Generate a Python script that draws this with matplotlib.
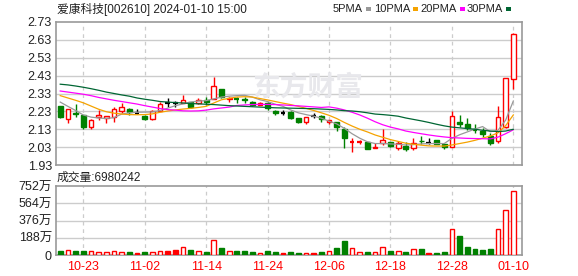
import numpy as np
import matplotlib
matplotlib.use("Agg")
import matplotlib.pyplot as plt

plt.rcParams['font.family'] = ['Liberation Sans', 'Noto Sans CJK SC']

dates = ["10-18", "10-19", "10-20", "10-23", "10-24", "10-25", "10-26", "10-27", "10-30", "10-31",
         "11-01", "11-02", "11-03", "11-06", "11-07", "11-08", "11-09", "11-10", "11-13", "11-14",
         "11-15", "11-16", "11-17", "11-20", "11-21", "11-22", "11-23", "11-24", "11-27", "11-28",
         "11-29", "11-30", "12-01", "12-04", "12-05", "12-06", "12-07", "12-08", "12-11", "12-12",
         "12-13", "12-14", "12-15", "12-18", "12-19", "12-20", "12-21", "12-22", "12-25", "12-26",
         "12-27", "12-28", "12-29", "01-02", "01-03", "01-04", "01-05", "01-08", "01-09", "01-10"]
tick_dates = ["10-23", "11-02", "11-14", "11-24", "12-06", "12-18", "12-28", "01-10"]

opens = [2.26, 2.19, 2.222, 2.21, 2.145, 2.198, 2.191, 2.197, 2.234, 2.243,
         2.22, 2.205, 2.186, 2.234, 2.275, 2.275, 2.275, 2.281, 2.275, 2.294,
         2.30, 2.355, 2.30, 2.30, 2.30, 2.284, 2.267, 2.279, 2.232, 2.223,
         2.228, 2.191, 2.169, 2.204, 2.204, 2.17, 2.172, 2.131, 2.055, 2.055,
         2.057, 2.027, 2.055, 2.057, 2.027, 2.038, 2.025, 2.067, 2.055, 2.07,
         2.046, 2.033, 2.172, 2.157, 2.128, 2.12, 2.094, 2.063, 2.144, 2.41]
highs = [2.26, 2.245, 2.27, 2.21, 2.185, 2.237, 2.204, 2.253, 2.275, 2.25,
         2.241, 2.21, 2.235, 2.28, 2.303, 2.29, 2.32, 2.281, 2.306, 2.309,
         2.425, 2.355, 2.31, 2.31, 2.31, 2.29, 2.285, 2.285, 2.235, 2.235,
         2.23, 2.191, 2.20, 2.219, 2.21, 2.183, 2.172, 2.141, 2.08, 2.07,
         2.057, 2.051, 2.13, 2.06, 2.064, 2.057, 2.083, 2.092, 2.079, 2.07,
         2.046, 2.234, 2.21, 2.191, 2.157, 2.135, 2.107, 2.26, 2.418, 2.667]
lows = [2.195, 2.165, 2.20, 2.13, 2.13, 2.18, 2.165, 2.172, 2.22, 2.21,
        2.215, 2.18, 2.18, 2.23, 2.256, 2.256, 2.275, 2.25, 2.27, 2.265,
        2.30, 2.305, 2.285, 2.275, 2.275, 2.26, 2.265, 2.24, 2.21, 2.21,
        2.185, 2.165, 2.16, 2.195, 2.172, 2.159, 2.122, 2.023, 2.001, 2.046,
        2.02, 2.027, 2.042, 2.033, 2.014, 2.01, 2.012, 2.047, 2.047, 2.046,
        2.02, 2.03, 2.144, 2.126, 2.107, 2.085, 2.042, 2.051, 2.135, 2.355]
closes = [2.197, 2.243, 2.218, 2.145, 2.182, 2.21, 2.204, 2.241, 2.253, 2.225,
          2.22, 2.185, 2.234, 2.271, 2.275, 2.275, 2.294, 2.255, 2.294, 2.281,
          2.372, 2.31, 2.306, 2.297, 2.296, 2.264, 2.279, 2.247, 2.223, 2.223,
          2.195, 2.17, 2.197, 2.204, 2.187, 2.183, 2.144, 2.083, 2.057, 2.058,
          2.02, 2.033, 2.07, 2.038, 2.051, 2.02, 2.055, 2.063, 2.055, 2.048,
          2.031, 2.202, 2.159, 2.137, 2.125, 2.105, 2.055, 2.20, 2.418, 2.662]

# volume in 万 (10k)
volume = [43.6, 54.5, 43.6, 43.6, 43.6, 32.7, 32.7, 43.6, 32.7, 32.7,
          21.8, 32.7, 32.7, 43.6, 43.6, 54.5, 83.5, 54.5, 43.6, 32.7,
          163, 76, 43.6, 43.6, 43.6, 32.7, 21.8, 43.6, 32.7, 21.8,
          32.7, 21.8, 21.8, 21.8, 32.7, 43.6, 76, 152.5, 76, 32.7,
          32.7, 32.7, 83.5, 43.6, 43.6, 32.7, 61.7, 61.7, 21.8, 21.8,
          32.7, 279.6, 207, 87, 65.4, 54.5, 65.4, 279.6, 486.6, 698.0242]

ma5 = [2.282, 2.258, 2.235, 2.21, 2.198, 2.193, 2.19, 2.195, 2.215, 2.222,
       2.225, 2.226, 2.227, 2.235, 2.248, 2.262, 2.272, 2.282, 2.288, 2.29,
       2.30, 2.31, 2.315, 2.318, 2.32, 2.31, 2.295, 2.285, 2.27, 2.258,
       2.238, 2.222, 2.212, 2.203, 2.192, 2.175, 2.16, 2.135, 2.105, 2.08,
       2.06, 2.05, 2.05, 2.048, 2.046, 2.042, 2.044, 2.048, 2.05, 2.05,
       2.05, 2.079, 2.099, 2.115, 2.131, 2.145, 2.116, 2.124, 2.181, 2.288]
ma10 = [2.318, 2.305, 2.292, 2.278, 2.26, 2.242, 2.228, 2.22, 2.215, 2.212,
        2.211, 2.212, 2.216, 2.225, 2.232, 2.238, 2.243, 2.247, 2.252, 2.258,
        2.277, 2.295, 2.303, 2.31, 2.312, 2.31, 2.302, 2.294, 2.285, 2.276,
        2.268, 2.258, 2.247, 2.235, 2.222, 2.208, 2.19, 2.168, 2.148, 2.13,
        2.115, 2.098, 2.085, 2.072, 2.062, 2.052, 2.046, 2.041, 2.037, 2.036,
        2.036, 2.042, 2.05, 2.058, 2.068, 2.08, 2.092, 2.11, 2.15, 2.21]
ma20 = [2.344, 2.338, 2.332, 2.326, 2.318, 2.308, 2.30, 2.292, 2.285, 2.278,
        2.271, 2.262, 2.254, 2.246, 2.24, 2.237, 2.233, 2.232, 2.233, 2.237,
        2.244, 2.249, 2.254, 2.263, 2.266, 2.268, 2.269, 2.269, 2.268, 2.266,
        2.263, 2.261, 2.258, 2.255, 2.252, 2.255, 2.248, 2.238, 2.225, 2.21,
        2.192, 2.172, 2.155, 2.142, 2.132, 2.12, 2.112, 2.105, 2.098, 2.092,
        2.087, 2.083, 2.081, 2.079, 2.078, 2.077, 2.076, 2.086, 2.105, 2.127]
ma30 = [2.382, 2.378, 2.372, 2.365, 2.357, 2.348, 2.338, 2.33, 2.322, 2.315,
        2.305, 2.298, 2.292, 2.285, 2.282, 2.279, 2.277, 2.274, 2.272, 2.27,
        2.268, 2.265, 2.262, 2.26, 2.258, 2.256, 2.254, 2.252, 2.25, 2.249,
        2.248, 2.247, 2.246, 2.245, 2.243, 2.241, 2.238, 2.234, 2.232, 2.228,
        2.222, 2.215, 2.212, 2.208, 2.203, 2.193, 2.185, 2.177, 2.168, 2.158,
        2.149, 2.142, 2.138, 2.134, 2.13, 2.124, 2.12, 2.117, 2.12, 2.13]

price_ticks = [1.93, 2.03, 2.13, 2.23, 2.33, 2.43, 2.53, 2.63, 2.73]
vol_ticks = [0, 188, 376, 564, 752]

RED = "#ff0000"
GREEN = "#008000"
GRID = "#cccccc"
FRAME = "#999999"
TXT = "#222222"

W, H = 578, 276
fig = plt.figure(figsize=(W / 100, H / 100), dpi=100)


def box(l, t, r, b):
    return [l / W, 1 - b / H, (r - l) / W, (b - t) / H]


ax = fig.add_axes(box(56, 22, 522, 165))
axv = fig.add_axes(box(56, 186, 522, 255), sharex=ax)

x = np.arange(len(dates))
o = np.array(opens); c = np.array(closes)
h = np.array(highs); l = np.array(lows)
tick_idx = [dates.index(d) for d in tick_dates]
width = 0.62

for a in (ax, axv):
    for s in a.spines.values():
        s.set_color(FRAME)
        s.set_linewidth(1.2)
    a.tick_params(length=0, labelsize=9, colors=TXT, pad=3)
    for xi in tick_idx:
        a.axvline(xi, color=GRID, lw=0.9, ls=(0, (3, 3)), zorder=0)

# price panel
ax.set_xlim(-0.55, 60.13)
ax.set_ylim(1.93, 2.73)
ax.set_yticks(price_ticks)
ax.set_yticklabels([f"{v:.2f}" for v in price_ticks])
for v in price_ticks[1:-1]:
    ax.axhline(v, color=GRID, lw=1.0, zorder=0)
plt.setp(ax.get_xticklabels(), visible=False)

up = c > o
down = c < o
flat = c == o
colors = np.where(up, RED, np.where(down, GREEN, "#000000"))

ax.vlines(x, l, h, colors=colors, lw=1.0, zorder=2)
bottom = np.minimum(o, c)
height = np.abs(c - o)
thin = height < 0.004
ax.bar(x[up & ~thin], height[up & ~thin], width, bottom[up & ~thin],
       facecolor="white", edgecolor=RED, lw=1.0, zorder=3)
ax.bar(x[down & ~thin], height[down & ~thin], width, bottom[down & ~thin],
       facecolor=GREEN, edgecolor=GREEN, lw=1.0, zorder=3)
ax.hlines(c[thin], x[thin] - width / 2, x[thin] + width / 2,
          colors=colors[thin], lw=1.6, zorder=3)

ax.plot(x, ma5, color="#999999", lw=0.9, zorder=4)
ax.plot(x, ma10, color="#f5a300", lw=0.9, zorder=4)
ax.plot(x, ma20, color="#ff00ff", lw=0.9, zorder=4)
ax.plot(x, ma30, color="#006633", lw=0.9, zorder=4)

# watermark
fig.text(308 / W, 1 - 88 / H, "东方财富", fontsize=20, color="#e8e8ec",
         ha="center", va="center", family=['Noto Sans CJK SC'], fontweight="bold", zorder=0)

# volume panel
v = np.array(volume)
axv.set_ylim(0, 752)
axv.set_yticks(vol_ticks)
axv.set_yticklabels(["0"] + [f"{t}万" for t in vol_ticks[1:]])
for t in vol_ticks[1:-1]:
    axv.axhline(t, color=GRID, lw=1.0, zorder=0)
axv.bar(x[up], v[up], width, facecolor="white", edgecolor=RED, lw=1.0, zorder=3)
axv.bar(x[down], v[down], width, facecolor=GREEN, edgecolor=GREEN, lw=1.0, zorder=3)
axv.bar(x[flat], v[flat], width, facecolor=RED, edgecolor=RED, lw=1.0, zorder=3)
axv.set_xticks(tick_idx)
axv.set_xticklabels(tick_dates, color=RED, fontsize=9)
axv.tick_params(axis="x", pad=4)

# header texts
fig.text(57 / W, 1 - 9 / H, "爱康科技[002610] 2024-01-10 15:00", fontsize=8.5,
         color=TXT, va="center", ha="left")
fig.text(57 / W, 1 - 178 / H, "成交量:6980242", fontsize=8.5,
         color=TXT, va="center", ha="left")

# legend: text right-aligned before a small colour square
legend_items = [("5PMA", "#999999", 368), ("10PMA", "#f5a300", 415),
                ("20PMA", "#ff00ff", 462), ("30PMA", "#006633", 508)]
for name, col, px in legend_items:
    fig.text((px - 5) / W, 1 - 9 / H, name, fontsize=8, color=TXT,
             va="center", ha="right")
    fig.patches.append(plt.Rectangle(((px - 2.5) / W, 1 - 10.5 / H), 5 / W, 3 / H,
                                     transform=fig.transFigure, facecolor=col,
                                     edgecolor="none"))

fig.savefig("out.png", dpi=100, facecolor="white")
